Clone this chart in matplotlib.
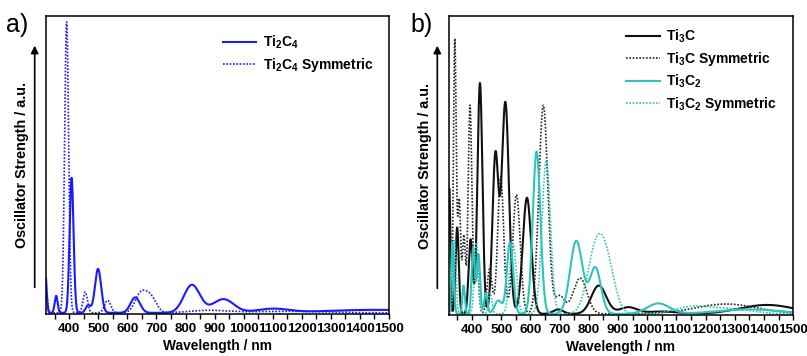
import numpy as np
import matplotlib
matplotlib.use("Agg")
import matplotlib.pyplot as plt

plt.rcParams['font.family'] = ['Liberation Sans', 'DejaVu Sans']
plt.rcParams['font.weight'] = 'bold'
plt.rcParams['axes.labelweight'] = 'bold'
plt.rcParams['mathtext.fontset'] = 'custom'
plt.rcParams['mathtext.bf'] = 'Liberation Sans:bold'
plt.rcParams['mathtext.rm'] = 'Liberation Sans:bold'
plt.rcParams['mathtext.default'] = 'bf'

# peak lists: centre (nm), height (axes fraction), fwhm (nm)
ti2c4_pos = [318, 355, 408, 465, 499, 627, 822, 930, 1100, 1450]
ti2c4_h = [0.13, 0.057, 0.455, 0.025, 0.148, 0.052, 0.094, 0.046, 0.013, 0.010]
ti2c4_w = [10, 12, 16, 20, 25, 38, 65, 85, 130, 400]

ti2c4s_pos = [322, 391, 455, 532, 645, 680, 880, 1150]
ti2c4s_h = [0.06, 0.98, 0.07, 0.042, 0.062, 0.052, 0.008, 0.005]
ti2c4s_w = [10, 16, 18, 25, 45, 45, 150, 300]

ti3c_pos = [322, 349, 395, 427, 480, 514, 588, 695, 834, 935, 1050, 1410]
ti3c_h = [0.42, 0.29, 0.25, 0.775, 0.53, 0.71, 0.39, 0.015, 0.095, 0.022, 0.008, 0.03]
ti3c_w = [9, 13, 16, 20, 24, 29, 34, 40, 60, 70, 120, 220]

ti3cs_pos = [341, 356, 372, 393, 415, 460, 498, 552, 644, 700, 770, 1270]
ti3cs_h = [0.92, 0.38, 0.26, 0.70, 0.20, 0.15, 0.46, 0.40, 0.70, 0.06, 0.12, 0.033]
ti3cs_w = [11, 12, 12, 15, 16, 20, 24, 30, 36, 40, 55, 250]

ti3c2_pos = [333, 371, 404, 422, 447, 490, 530, 621, 757, 822, 1038, 1350]
ti3c2_h = [0.24, 0.095, 0.22, 0.20, 0.07, 0.045, 0.24, 0.545, 0.245, 0.155, 0.035, 0.015]
ti3c2_w = [11, 10, 13, 13, 13, 30, 25, 31, 50, 45, 90, 250]

ti3c2s_pos = [340, 415, 462, 540, 654, 820, 860, 1160, 1300]
ti3c2s_h = [0.25, 0.24, 0.07, 0.235, 0.515, 0.185, 0.165, 0.025, 0.015]
ti3c2s_w = [12, 16, 14, 27, 34, 65, 65, 150, 150]

tick_pos = list(range(400, 1501, 100))
tick_labels = [str(t) for t in tick_pos]

wl = np.linspace(320, 1500, 3000)


def spectrum(pos, h, w):
    y = np.zeros_like(wl)
    for c, a, f in zip(pos, h, w):
        y += a * np.exp(-4 * np.log(2) * (wl - c) ** 2 / f ** 2)
    return y


blue = '#1a1aff'
cyan = '#2ec4b9'
dots = (0, (1, 1))

fig = plt.figure(figsize=(8.07, 3.56), dpi=100)
ax1 = fig.add_axes([0.057, 0.118, 0.425, 0.837])
ax2 = fig.add_axes([0.556, 0.115, 0.427, 0.84])

ax1.plot(wl, spectrum(ti2c4_pos, ti2c4_h, ti2c4_w), color=blue, lw=1.5, label='Ti$_2$C$_4$')
ax1.plot(wl, spectrum(ti2c4s_pos, ti2c4s_h, ti2c4s_w), color=blue, lw=1.2, ls=dots,
         label='Ti$_2$C$_4$ Symmetric')

ax2.plot(wl, spectrum(ti3c_pos, ti3c_h, ti3c_w), color='#111111', lw=1.5, label='Ti$_3$C')
ax2.plot(wl, spectrum(ti3cs_pos, ti3cs_h, ti3cs_w), color='#222222', lw=1.2, ls=dots,
         label='Ti$_3$C Symmetric')
ax2.plot(wl, spectrum(ti3c2_pos, ti3c2_h, ti3c2_w), color=cyan, lw=1.5, label='Ti$_3$C$_2$')
ax2.plot(wl, spectrum(ti3c2s_pos, ti3c2s_h, ti3c2s_w), color=cyan, lw=1.2, ls=dots,
         label='Ti$_3$C$_2$ Symmetric')

for ax, leg_y in [(ax1, 0.94), (ax2, 0.962)]:
    ax.set_xlim(320, 1500)
    ax.set_ylim(-0.004, 1.0)
    ax.set_yticks([])
    ax.set_xticks(tick_pos, tick_labels, fontweight='bold', fontsize=9.6)
    ax.set_xticks(np.arange(350, 1500, 100), minor=True)
    ax.tick_params(axis='x', which='both', direction='out', length=3.5, width=1, pad=3)
    for s in ax.spines.values():
        s.set_linewidth(1.1)
    ax.set_xlabel('Wavelength / nm', fontsize=9.9, fontweight='bold', labelpad=3)
    ax.set_ylabel('Oscillator Strength / a.u.', fontsize=10.4, fontweight='bold', labelpad=12)
    ax.annotate('', xy=(-0.033, 0.91), xytext=(-0.033, 0.08), xycoords='axes fraction',
                arrowprops=dict(arrowstyle='-|>', color='black', lw=1.2,
                                mutation_scale=11), annotation_clip=False)
    leg = ax.legend(loc='upper left', bbox_to_anchor=(0.516, leg_y), frameon=False,
                    fontsize=10.0, handlelength=2.4, handletextpad=0.45,
                    labelspacing=0.36, borderpad=0, borderaxespad=0)
    for t in leg.get_texts():
        t.set_fontweight('bold')

fig.text(0.008, 0.93, 'a)', fontsize=18, fontweight='normal', va='center')
fig.text(0.509, 0.93, 'b)', fontsize=18, fontweight='normal', va='center')

fig.savefig('out.png', dpi=100)
